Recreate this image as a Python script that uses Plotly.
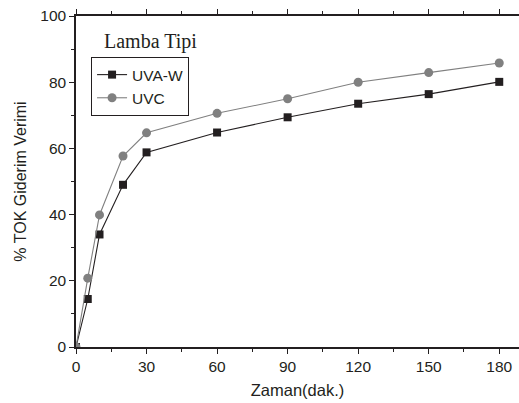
import plotly.graph_objects as go

time_min = [0, 5, 10, 20, 30, 60, 90, 120, 150, 180]
uva_w = [0, 14.5, 34, 49, 58.8, 64.8, 69.4, 73.5, 76.4, 80.1]
uvc = [0, 20.8, 39.9, 57.7, 64.7, 70.6, 75.0, 80.0, 82.9, 85.8]

x_ticks = [0, 30, 60, 90, 120, 150, 180]
y_ticks = [0, 20, 40, 60, 80, 100]

fig = go.Figure()
fig.add_trace(go.Scatter(
    x=time_min, y=uva_w, name="UVA-W", mode="lines+markers",
    line=dict(color="#231f20", width=1.1),
    marker=dict(symbol="square", size=8, color="#231f20"),
))
fig.add_trace(go.Scatter(
    x=time_min, y=uvc, name="UVC", mode="lines+markers",
    line=dict(color="#808080", width=1.1),
    marker=dict(symbol="circle", size=9, color="#808080"),
))

font = "Liberation Sans, Arial, sans-serif"
fig.update_layout(
    width=519, height=403,
    margin=dict(l=76, r=0, t=16, b=56),
    plot_bgcolor="white", paper_bgcolor="white",
    font=dict(family=font, size=15, color="#231f20"),
    showlegend=True,
    legend=dict(
        x=0.034, y=0.876, xanchor="left", yanchor="top",
        bordercolor="#231f20", borderwidth=1, bgcolor="white",
        font=dict(family=font, size=15.5, color="#231f20"),
        itemwidth=30, tracegroupgap=0,
    ),
    xaxis=dict(
        range=[0, 188.4], tickvals=x_ticks, ticks="outside", ticklen=5,
        tickcolor="#231f20", showline=True, linecolor="#231f20", linewidth=1.5,
        mirror="allticks", showgrid=False, zeroline=False,
        minor=dict(tickvals=[15, 45, 75, 105, 135, 165], ticks="outside", ticklen=3, tickcolor="#231f20"),
        title=dict(text="Zaman(dak.)", font=dict(size=16.5), standoff=10),
        tickfont=dict(size=15.5),
    ),
    yaxis=dict(
        range=[0, 100], tickvals=y_ticks, ticks="outside", ticklen=5,
        tickcolor="#231f20", showline=True, linecolor="#231f20", linewidth=1.5,
        showgrid=False, zeroline=False,
        minor=dict(tickvals=[10, 30, 50, 70, 90], ticks="outside", ticklen=3, tickcolor="#231f20"),
        title=dict(text="% TOK Giderim Verimi", font=dict(size=16), standoff=10),
        tickfont=dict(size=15.5),
    ),
    annotations=[dict(
        text="Lamba Tipi", xref="paper", yref="paper",
        x=(150.5 - 76) / 443, y=(347 - 41) / 331, xanchor="center", yanchor="middle",
        showarrow=False, font=dict(family="Liberation Serif, Times New Roman, serif", size=20, color="#231f20"),
    )],
)
fig.write_html("out.html")
